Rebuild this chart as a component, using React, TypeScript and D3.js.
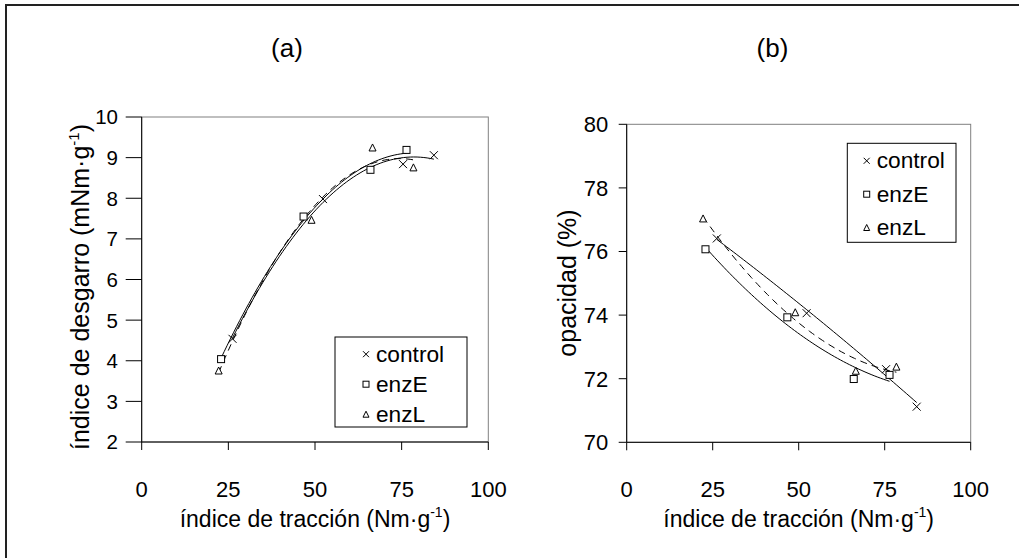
import React from "react";
import * as d3 from "d3";

// ---- data ----
const xTicks = [0, 25, 50, 75, 100];
const tearTicks = [2, 3, 4, 5, 6, 7, 8, 9, 10];
const opacityTicks = [70, 72, 74, 76, 78, 80];
const seriesNames = ["control", "enzE", "enzL"];

const controlTensile = [26.2, 52.3, 75.4, 84.3];
const enzETensile = [22.9, 46.7, 66.0, 76.4];
const enzLTensile = [22.2, 49.0, 66.6, 78.4];

const controlTear = [4.54, 7.98, 8.84, 9.06];
const enzETear = [4.04, 7.55, 8.7, 9.19];
const enzLTear = [3.76, 7.47, 9.25, 8.76];

const controlOpacity = [76.41, 74.06, 72.3, 71.12];
const enzEOpacity = [76.07, 73.93, 71.99, 72.12];
const enzLOpacity = [77.04, 74.09, 72.25, 72.38];

const FONT = "'Liberation Sans', Arial, sans-serif";

type Series = { name: string; xs: number[]; ys: number[]; dashed: boolean; marker: string };

function quadFit(xs: number[], ys: number[]) {
  // least squares y = a + b x + c x^2
  let s0 = 0, s1 = 0, s2 = 0, s3 = 0, s4 = 0, t0 = 0, t1 = 0, t2 = 0;
  xs.forEach((x, i) => {
    const y = ys[i];
    s0 += 1; s1 += x; s2 += x * x; s3 += x * x * x; s4 += x * x * x * x;
    t0 += y; t1 += x * y; t2 += x * x * y;
  });
  const M = [
    [s0, s1, s2, t0],
    [s1, s2, s3, t1],
    [s2, s3, s4, t2],
  ];
  for (let i = 0; i < 3; i++) {
    let p = i;
    for (let r = i + 1; r < 3; r++) if (Math.abs(M[r][i]) > Math.abs(M[p][i])) p = r;
    [M[i], M[p]] = [M[p], M[i]];
    for (let r = 0; r < 3; r++) {
      if (r === i) continue;
      const f = M[r][i] / M[i][i];
      for (let c = i; c < 4; c++) M[r][c] -= f * M[i][c];
    }
  }
  const a = M[0][3] / M[0][0], b = M[1][3] / M[1][1], c = M[2][3] / M[2][2];
  return (x: number) => a + b * x + c * x * x;
}

function Marker({ kind, x, y, s }: { kind: string; x: number; y: number; s: number }) {
  const h = s / 2;
  if (kind === "x")
    return (
      <g stroke="#000" strokeWidth={1}>
        <line x1={x - h} y1={y - h} x2={x + h} y2={y + h} />
        <line x1={x - h} y1={y + h} x2={x + h} y2={y - h} />
      </g>
    );
  if (kind === "s")
    return <rect x={x - h} y={y - h} width={s} height={s} fill="#fff" stroke="#000" strokeWidth={1} />;
  return (
    <path
      d={`M${x},${y - h}L${x + h},${y + h}L${x - h},${y + h}Z`}
      fill="#fff"
      stroke="#000"
      strokeWidth={1}
    />
  );
}

type PanelProps = {
  left: number; right: number; top: number; bottom: number;
  yDomain: [number, number]; yTicks: number[];
  series: Series[];
  title: string; titleX: number;
  yLabel: React.ReactNode; yLabelX: number; yLabelY: number;
  yTickLen: number; yTickRight: number; yTickFont: number;
  legend: { x0: number; y0: number; x1: number; y1: number; mx: number; tx: number; rows: number[] };
};

function Panel(p: PanelProps) {
  const x = d3.scaleLinear().domain([0, 100]).range([p.left, p.right]);
  const y = d3.scaleLinear().domain(p.yDomain).range([p.bottom, p.top]);
  const line = d3.line<[number, number]>().x((d) => x(d[0])).y((d) => y(d[1]));
  const cx = (p.left + p.right) / 2;
  return (
    <g fontFamily={FONT} fill="#000">
      <rect x={p.left} y={p.top} width={p.right - p.left} height={p.bottom - p.top} fill="none" stroke="#808080" strokeWidth={1} />
      {p.series.map((s) => {
        const f = quadFit(s.xs, s.ys);
        const lo = d3.min(s.xs)!, hi = d3.max(s.xs)!;
        const pts: [number, number][] = d3.range(0, 61).map((i) => {
          const xv = lo + ((hi - lo) * i) / 60;
          return [xv, f(xv)];
        });
        return (
          <path key={s.name} d={line(pts)!} fill="none" stroke="#000" strokeWidth={1} strokeDasharray={s.dashed ? "7,5" : undefined} />
        );
      })}
      {p.series.map((s) =>
        s.xs.map((xv, i) => <Marker key={s.name + i} kind={s.marker} x={x(xv)} y={y(s.ys[i])} s={s.marker === "x" ? 8 : 7} />)
      )}
      {/* axes */}
      <line x1={p.left} y1={p.top} x2={p.left} y2={p.bottom} stroke="#000" strokeWidth={1} />
      <line x1={p.left} y1={p.bottom} x2={p.right} y2={p.bottom} stroke="#000" strokeWidth={1} />
      {p.yTicks.map((t) => (
        <g key={"y" + t}>
          <line x1={p.left - p.yTickLen} x2={p.left} y1={y(t)} y2={y(t)} stroke="#000" />
          <text x={p.yTickRight} y={y(t) + p.yTickFont * 0.36} textAnchor="end" fontSize={p.yTickFont}>{t}</text>
        </g>
      ))}
      {xTicks.map((t) => (
        <g key={"x" + t}>
          <line x1={x(t)} x2={x(t)} y1={p.bottom} y2={p.bottom + 8} stroke="#000" />
          <text x={x(t)} y={497} textAnchor="middle" fontSize={22}>{t}</text>
        </g>
      ))}
      <text x={cx} y={527} textAnchor="middle" fontSize={23}>
        índice de tracción (Nm·g<tspan dy={-10} fontSize={14}>-1</tspan><tspan dy={10}>)</tspan>
      </text>
      <text transform={`translate(${p.yLabelX},${p.yLabelY}) rotate(-90)`} textAnchor="middle" fontSize={25}>
        {p.yLabel}
      </text>
      <text x={p.titleX} y={57} textAnchor="middle" fontSize={26}>{p.title}</text>
      {/* legend */}
      <rect x={p.legend.x0} y={p.legend.y0} width={p.legend.x1 - p.legend.x0} height={p.legend.y1 - p.legend.y0} fill="#fff" stroke="#000" strokeWidth={1} />
      {p.series.map((s, i) => (
        <g key={"lg" + s.name}>
          <Marker kind={s.marker} x={p.legend.mx} y={p.legend.rows[i] - 7.5} s={6} />
          <text x={p.legend.tx} y={p.legend.rows[i]} fontSize={22.7}>{s.name}</text>
        </g>
      ))}
    </g>
  );
}

export default function App() {
  const seriesA: Series[] = [
    { name: seriesNames[0], xs: controlTensile, ys: controlTear, dashed: false, marker: "x" },
    { name: seriesNames[1], xs: enzETensile, ys: enzETear, dashed: false, marker: "s" },
    { name: seriesNames[2], xs: enzLTensile, ys: enzLTear, dashed: true, marker: "t" },
  ];
  const seriesB: Series[] = [
    { name: seriesNames[0], xs: controlTensile, ys: controlOpacity, dashed: false, marker: "x" },
    { name: seriesNames[1], xs: enzETensile, ys: enzEOpacity, dashed: false, marker: "s" },
    { name: seriesNames[2], xs: enzLTensile, ys: enzLOpacity, dashed: true, marker: "t" },
  ];
  return (
    <svg width={1019} height={558} style={{ position: "absolute", left: 0, top: 0, background: "#fff" }}>
      <rect x={0} y={0} width={1019} height={558} fill="#fff" />
      <line x1={6} y1={5} x2={1019} y2={5} stroke="#222" strokeWidth={2} />
      <line x1={6} y1={4} x2={6} y2={558} stroke="#222" strokeWidth={2} />
      <Panel
        left={141.7} right={488.3} top={117} bottom={442}
        yDomain={[2, 10]} yTicks={tearTicks} series={seriesA}
        title="(a)" titleX={287}
        yLabel={<>índice de desgarro (mNm·g<tspan dy={-10} fontSize={15}>-1</tspan><tspan dy={10}>)</tspan></>}
        yLabelX={89} yLabelY={287}
        yTickLen={16} yTickRight={118} yTickFont={20.5}
        legend={{ x0: 335, y0: 337, x1: 467, y1: 427, mx: 366, tx: 376, rows: [361.7, 391.7, 421.7] }}
      />
      <Panel
        left={626.7} right={970.7} top={124.3} bottom={442.3}
        yDomain={[70, 80]} yTicks={opacityTicks} series={seriesB}
        title="(b)" titleX={772.5}
        yLabel="opacidad (%)"
        yLabelX={576} yLabelY={283}
        yTickLen={8} yTickRight={608.3} yTickFont={22}
        legend={{ x0: 847.3, y0: 143.3, x1: 956, y1: 242.3, mx: 866.7, tx: 876.7, rows: [168.3, 201.7, 235] }}
      />
    </svg>
  );
}
